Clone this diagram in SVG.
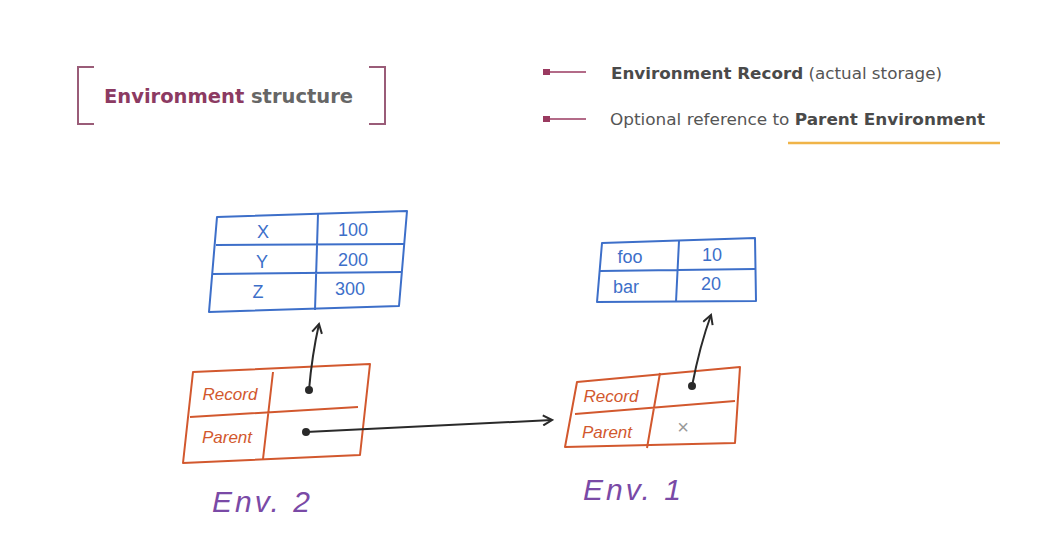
<svg xmlns="http://www.w3.org/2000/svg" width="1055" height="537" viewBox="0 0 1055 537">
<style>
.br{fill:none;stroke:#9a5c78;stroke-width:2}
.hdr{font-family:"DejaVu Sans","Liberation Sans",sans-serif;font-size:19px;font-weight:bold}
.leg{font-family:"DejaVu Sans","Liberation Sans",sans-serif;font-size:16px;fill:#555}
.b{font-weight:bold;fill:#4a4a4a}
.blue{fill:none;stroke:#3d6fc9;stroke-width:2;stroke-linejoin:round}
.org{fill:none;stroke:#d2582e;stroke-width:2;stroke-linejoin:round}
.bt{font-family:"Liberation Sans",Arial,sans-serif;font-size:18px;fill:#3d6fc9;text-anchor:middle}
.ot{font-family:"Liberation Sans",Arial,sans-serif;font-size:17px;fill:#d2582e;text-anchor:middle;font-style:italic}
.env{font-family:"Liberation Sans",Arial,sans-serif;font-size:30px;fill:#7a4aa6;font-style:italic;letter-spacing:3px}
.con{fill:none;stroke:#2a2a2a;stroke-width:2}
</style>
<defs>
<marker id="ah" viewBox="0 0 12 12" refX="10" refY="6" markerWidth="12" markerHeight="12" markerUnits="userSpaceOnUse" orient="auto">
<path d="M1,1 L10,6 L1,11" fill="none" stroke="#2a2a2a" stroke-width="2"/>
</marker>
</defs>
<rect width="1055" height="537" fill="#fff"/>
<g id="title">
<path class="br" d="M94,67 H78 V124 H94"/>
<path class="br" d="M369,67 H385 V124 H369"/>
<text class="hdr" x="104" y="103" textLength="249" lengthAdjust="spacingAndGlyphs"><tspan fill="#8c3a62">Environment</tspan><tspan fill="#666"> structure</tspan></text>
</g>
<g id="legend">
<rect x="543" y="69" width="7" height="6" fill="#9a3a60"/>
<line x1="550" y1="72" x2="586" y2="72" stroke="#9a3a60" stroke-width="1.5"/>
<rect x="543" y="116" width="7" height="6" fill="#9a3a60"/>
<line x1="550" y1="119" x2="586" y2="119" stroke="#9a3a60" stroke-width="1.5"/>
<text class="leg" x="611" y="79" textLength="331" lengthAdjust="spacingAndGlyphs"><tspan class="b">Environment Record</tspan> (actual storage)</text>
<text class="leg" x="610" y="125" textLength="375" lengthAdjust="spacingAndGlyphs">Optional reference to <tspan class="b">Parent Environment</tspan></text>
<line x1="788" y1="143" x2="1000" y2="143" stroke="#f0b448" stroke-width="2.5"/>
</g>
<g id="record-env2">
<path class="blue" d="M217,217 L407,211 L399,306 L209,312 Z"/>
<path class="blue" d="M216,245 L405,244 M213,274 L402,272 M318,214 L315,310"/>
<text class="bt" x="263" y="238">X</text>
<text class="bt" x="353" y="236">100</text>
<text class="bt" x="262" y="268">Y</text>
<text class="bt" x="353" y="266">200</text>
<text class="bt" x="258" y="298">Z</text>
<text class="bt" x="350" y="295">300</text>
</g>
<g id="record-env1">
<path class="blue" d="M602,243 L755,238 L756,301 L597,302 Z"/>
<path class="blue" d="M600,271 L755,269 M679,241 L676,302"/>
<text class="bt" x="630" y="263">foo</text>
<text class="bt" x="712" y="261">10</text>
<text class="bt" x="626" y="293">bar</text>
<text class="bt" x="711" y="290">20</text>
</g>
<g id="env2">
<path class="org" d="M193,372 L370,364 L360,455 L183,463 Z"/>
<path class="org" d="M190,417 L358,407 M273,372 L263,459"/>
<text class="ot" x="230" y="400">Record</text>
<text class="ot" x="227" y="443">Parent</text>
<text class="env" x="212" y="512">Env. 2</text>
</g>
<g id="env1">
<path class="org" d="M577,382 L740,367 L735,443 L565,447 Z"/>
<path class="org" d="M575,414 L735,401 M660,373 L647,448"/>
<text class="ot" x="611" y="402">Record</text>
<text class="ot" x="607" y="438">Parent</text>
<text x="683" y="434" font-family="Liberation Sans,Arial,sans-serif" font-size="20" fill="#999" text-anchor="middle">×</text>
<text class="env" x="583" y="500">Env. 1</text>
</g>
<g id="connectors">
<circle cx="309" cy="390" r="4" fill="#2a2a2a"/>
<path class="con" d="M309,390 Q312,355 319,324" marker-end="url(#ah)"/>
<circle cx="306" cy="432" r="4" fill="#2a2a2a"/>
<path class="con" d="M306,432 L552,420" marker-end="url(#ah)"/>
<circle cx="692" cy="386" r="4" fill="#2a2a2a"/>
<path class="con" d="M692,386 Q700,345 711,315" marker-end="url(#ah)"/>
</g>
</svg>
